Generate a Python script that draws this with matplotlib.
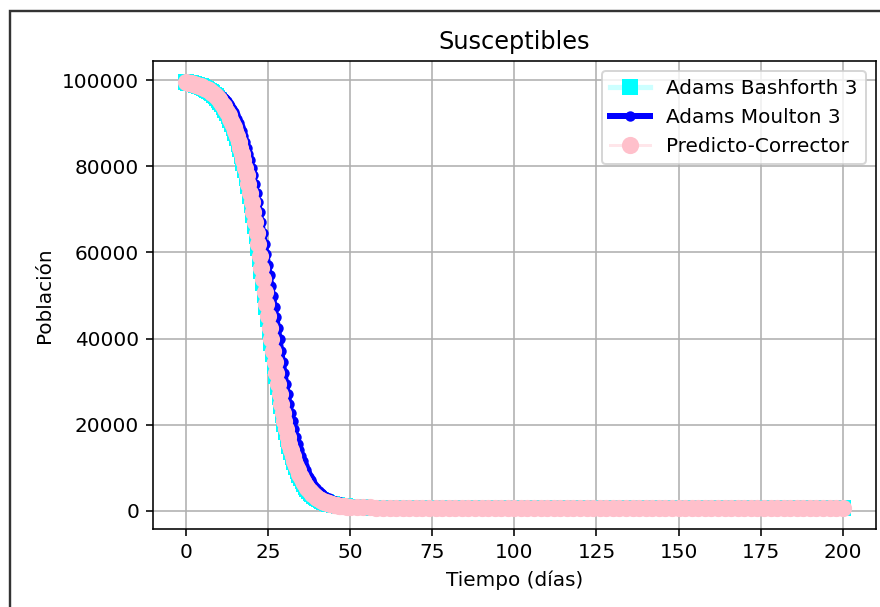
import matplotlib
matplotlib.use("Agg")
import matplotlib.pyplot as plt
import matplotlib.patches as patches
import numpy as np

# time grid: half-day steps to day 50, then every 2 days
t_head = np.arange(0, 50.5, 0.5)
t_tail = np.arange(52, 201, 2)

# Adams Bashforth 3
ab3_head = [99480, 99410, 99330, 99240, 99150, 99050, 98930, 98810, 98670, 98530,
            98360, 98170, 97980, 97750, 97510, 97250, 96950, 96610, 96250, 95850,
            95410, 94920, 94380, 93790, 93130, 92420, 91640, 90790, 89850, 88840,
            87740, 86560, 85280, 83910, 82430, 80850, 79150, 77300, 75330, 73210,
            71000, 68650, 66230, 63720, 61090, 58410, 55660, 52870, 50060, 47250,
            44460, 41700, 38990, 36330, 33730, 31220, 28800, 26460, 24260, 22180,
            20240, 18420, 16720, 15170, 13740, 12450, 11250, 10190, 9220, 8350,
            7560, 6850, 6210, 5630, 5110, 4640, 4220, 3850, 3520, 3220,
            2940, 2700, 2490, 2300, 2120, 1970, 1830, 1710, 1600, 1510,
            1420, 1340, 1270, 1210, 1160, 1110, 1070, 1030, 1000, 970,
            945]
ab3_tail = [865, 818, 790, 772, 759, 752, 748, 745, 743, 741, 740, 739, 739, 738, 738,
            738, 738, 738, 738, 738, 738, 738, 738, 738, 738, 738, 738, 738, 738, 738,
            738, 738, 738, 738, 738, 738, 738, 738, 738, 738, 738, 738, 738, 738, 738,
            738, 738, 738, 738, 738, 738, 738, 738, 738, 738, 738, 738, 738, 738, 738,
            738, 738, 738, 738, 738, 738, 738, 738, 738, 738, 738, 738, 738, 738, 738]

# Adams Moulton 3
am3_head = [99500, 99490, 99380, 99310, 99240, 99165, 99080, 98990, 98890, 98780,
            98670, 98550, 98420, 98270, 98110, 97940, 97760, 97560, 97340, 97100,
            96840, 96560, 96250, 95920, 95560, 95080, 94560, 93980, 93350, 92650,
            91900, 91060, 90150, 89160, 88100, 86940, 85700, 84350, 82900, 81350,
            79700, 77870, 75950, 73880, 71700, 69400, 67000, 64500, 61900, 59550,
            57150, 54760, 52300, 49830, 47420, 44970, 42530, 39800, 37120, 34500,
            31960, 29500, 27150, 24900, 22800, 20800, 18940, 17200, 15620, 14150,
            12830, 11600, 10510, 9500, 8610, 7780, 7100, 6450, 5880, 5370,
            4920, 4520, 4160, 3840, 3560, 3310, 3090, 2890, 2710, 2550,
            2410, 2280, 2170, 2060, 1970, 1890, 1810, 1740, 1680, 1620,
            1570]
am3_tail = [1420, 1300, 1200, 1110, 1040, 985, 940, 900, 870, 848, 830, 814, 800, 789, 780,
            774, 770, 766, 762, 759, 757, 755, 754, 753, 752, 751, 750, 750, 749, 749,
            748, 748, 748, 748, 748, 748, 748, 748, 748, 748, 748, 748, 748, 748, 748,
            748, 748, 748, 748, 748, 748, 748, 748, 748, 748, 748, 748, 748, 748, 748,
            748, 748, 748, 748, 748, 748, 748, 748, 748, 748, 748, 748, 748, 748, 748]

# Predictor-Corrector
pc_head = [99500, 99430, 99350, 99270, 99180, 99080, 98970, 98850, 98720, 98580,
           98420, 98240, 98050, 97830, 97600, 97340, 97050, 96730, 96380, 95990,
           95560, 95080, 94560, 93980, 93350, 92650, 91900, 91060, 90150, 89160,
           88100, 86940, 85700, 84350, 82900, 81350, 79700, 77870, 75950, 73880,
           71700, 69400, 67000, 64500, 61900, 59230, 56500, 53720, 50900, 48100,
           45300, 42530, 39800, 37120, 34500, 31960, 29500, 27150, 24900, 22800,
           20800, 18940, 17200, 15620, 14150, 12830, 11600, 10510, 9500, 8610,
           7780, 7050, 6380, 5790, 5250, 4770, 4340, 3960, 3610, 3300,
           3020, 2770, 2550, 2350, 2170, 2010, 1870, 1740, 1630, 1530,
           1440, 1360, 1290, 1230, 1170, 1120, 1080, 1040, 1010, 980,
           955]
pc_tail = [880, 830, 800, 780, 765, 758, 754, 751, 749, 747, 746, 745, 744, 743, 743,
           742, 742, 742, 742, 741, 741, 741, 741, 741, 741, 741, 740, 740, 740, 740,
           740, 740, 740, 740, 740, 740, 740, 740, 740, 740, 740, 740, 740, 740, 740,
           740, 740, 740, 740, 740, 740, 740, 740, 740, 740, 740, 740, 740, 740, 740,
           740, 740, 740, 740, 740, 740, 740, 740, 740, 740, 740, 740, 740, 740, 740]

t = np.concatenate([t_head, t_tail])
ab3 = np.array(ab3_head + ab3_tail)
am3 = np.array(am3_head + am3_tail)
pc = np.array(pc_head + pc_tail)

fig = plt.figure(figsize=(880/144, 607/144), dpi=144)
ax = fig.add_axes([0.174, 0.1285, 0.821, 0.771])

ax.plot(t, ab3, color="#ccffff", lw=2.6, marker="s", ms=7,
        mfc="cyan", mec="cyan", label="Adams Bashforth 3")
ax.plot(t, am3, color="blue", lw=3, marker="o", ms=4.2,
        label="Adams Moulton 3")
ax.plot(t, pc, color="#ffe6ea", lw=1.5, marker="o", ms=7.6,
        mfc="pink", mec="pink", label="Predicto-Corrector")

ax.set_title("Susceptibles")
ax.set_xlabel("Tiempo (días)")
ax.set_ylabel("Población")
ax.grid(True)
ax.legend(loc="upper right")

# screenshot frame around the figure
fig.add_artist(patches.Rectangle((9.5/880, -0.1), 1.2, 1.1 - 10.5/607,
                                 transform=fig.transFigure, fill=False,
                                 edgecolor="#333333", lw=1.2))

fig.savefig("out.png", dpi=144)
